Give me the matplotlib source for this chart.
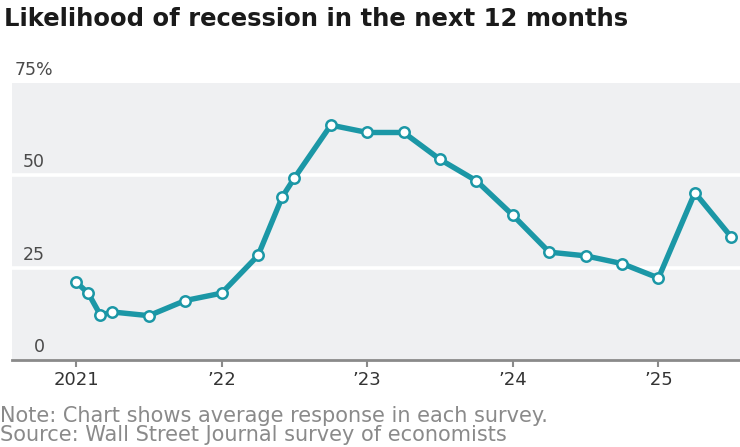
import matplotlib
matplotlib.use("Agg")
import matplotlib.pyplot as plt

# Survey dates (year, month) and average recession probability (%)
survey_year = [2021, 2021, 2021, 2021, 2021, 2021,
               2022, 2022, 2022, 2022, 2022,
               2023, 2023, 2023, 2023,
               2024, 2024, 2024, 2024,
               2025, 2025, 2025]
survey_month = [1, 2, 3, 4, 7, 10,
                1, 4, 6, 7, 10,
                1, 4, 7, 10,
                1, 4, 7, 10,
                1, 4, 7]
probability = [21.1, 18.1, 12.2, 13.0, 12.0, 16.1,
               18.1, 28.3, 44.2, 49.3, 63.6,
               61.6, 61.6, 54.3, 48.5,
               39.2, 29.2, 28.2, 26.1,
               22.2, 45.3, 33.3]

tick_years = [2021, 2022, 2023, 2024, 2025]
tick_labels = ["2021", "\u201922", "\u201923", "\u201924", "\u201925"]
y_gridlines = [25, 50]
y_labels = ["0", "25", "50", "75%"]
y_label_vals = [0, 25, 50, 75]

title = "Likelihood of recession in the next 12 months"
note = "Note: Chart shows average response in each survey."
source = "Source: Wall Street Journal survey of economists"

x = [y + (m - 1) / 12 for y, m in zip(survey_year, survey_month)]

FONT = "DejaVu Sans"
W, H = 740, 447
fig = plt.figure(figsize=(W / 100, H / 100), dpi=100)
fig.patch.set_facecolor("white")

left_px, right_px, top_px, bottom_px = 12, 740, 83, 360
ax = fig.add_axes([left_px / W, 1 - bottom_px / H,
                   (right_px - left_px) / W, (bottom_px - top_px) / H])
ax.set_facecolor("#eff0f2")
ax.set_xlim(2020.56, 2025.56)
ax.set_ylim(0, 75)

for g in y_gridlines:
    ax.axhline(g, color="white", lw=2.6, zorder=1)

teal = "#1b97a6"
ax.plot(x, probability, color=teal, lw=3.9, zorder=3, solid_capstyle="round",
        marker="o", markersize=7.5, markerfacecolor="white",
        markeredgecolor=teal, markeredgewidth=1.8, clip_on=False)

for s in ["top", "right", "left"]:
    ax.spines[s].set_visible(False)
ax.spines["bottom"].set_color("#8a8a8a")
ax.spines["bottom"].set_linewidth(2.0)
ax.spines["bottom"].set_zorder(4)

ax.set_yticks([])
ax.set_xticks(tick_years)
ax.set_xticklabels(tick_labels, fontsize=13, color="#333333", family=FONT)
ax.tick_params(axis="x", length=5, width=1.5, color="#8a8a8a", pad=3)

for v, lab in zip(y_label_vals, y_labels):
    if lab.endswith("%"):
        fig.text(15 / W, 1 - (top_px - 4) / H, lab,
                 ha="left", va="bottom", fontsize=12.5, color="#4a4a4a", family=FONT)
    else:
        fig.text(45 / W, 1 - (bottom_px - v / 75 * (bottom_px - top_px) - 4) / H, lab,
                 ha="right", va="bottom", fontsize=12.5, color="#4a4a4a", family=FONT,
                 zorder=5)

fig.text(4 / W, 1 - 19 / H, title, ha="left", va="center", fontsize=17.5,
         fontweight="bold", color="#1a1a1a", family=FONT)
fig.text(0 / W, 1 - 416 / H, note, ha="left", va="center", fontsize=15,
         color="#8a8a8a", family=FONT)
fig.text(0 / W, 1 - 435 / H, source, ha="left", va="center", fontsize=15,
         color="#8a8a8a", family=FONT)

fig.savefig("out.png", dpi=100)
